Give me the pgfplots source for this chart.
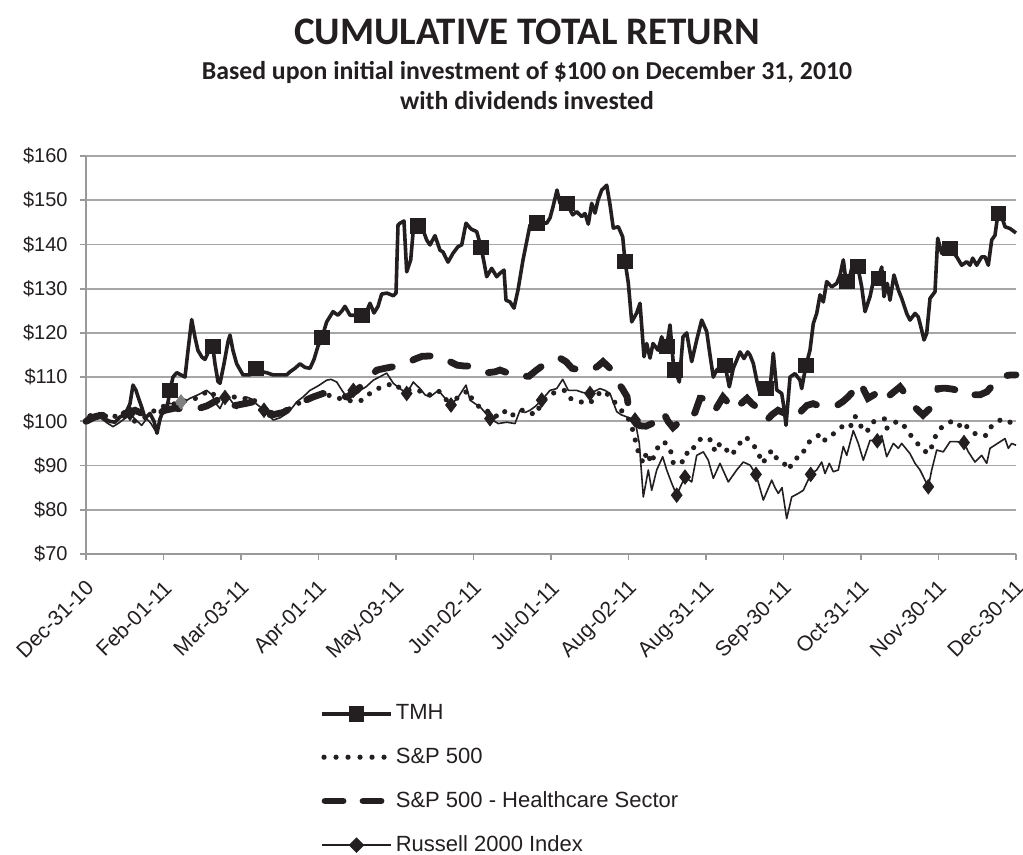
\documentclass[border=0pt]{standalone}
\usepackage{fontspec}
\setmainfont{Liberation Sans}
\newfontfamily\calibri{Carlito}
\usepackage{pgfplots}
\pgfplotsset{compat=1.18}
\definecolor{ink}{HTML}{231F20}
\definecolor{gridgray}{HTML}{A6A6A6}
\definecolor{axgray}{HTML}{999999}
\begin{document}
\begin{tikzpicture}
\useasboundingbox (-43pt,-150.5pt) rectangle (468.5pt,277pt);
\node[font=\calibri\bfseries\fontsize{19.5}{22}\selectfont, text=ink] at (220.5pt,261pt) {CUMULATIVE TOTAL RETURN};
\node[font=\calibri\bfseries\fontsize{12.9}{15}\selectfont, text=ink] at (220.5pt,241pt) {Based upon initial investment of \$100 on December 31, 2010};
\node[font=\calibri\bfseries\fontsize{12.9}{15}\selectfont, text=ink] at (220.5pt,226.5pt) {with dividends invested};
\begin{axis}[
  at={(0pt,0pt)}, anchor=south west,
  scale only axis, width=465pt, height=199pt,
  xmin=86, xmax=1016, ymin=70, ymax=160,
  axis x line*=bottom, axis y line*=left,
  axis line style={axgray, line width=0.9pt, -},
  every tick/.style={axgray, line width=0.9pt},
  tick align=outside, major tick length=3pt,
  ytick={70,80,...,160},
  yticklabels={\$70,\$80,\$90,\$100,\$110,\$120,\$130,\$140,\$150,\$160},
  ymajorgrids, grid style={gridgray, line width=0.9pt},
  xtick={86,163.5,241,318.5,396,473.5,551,628.5,706,783.5,861,938.5,1016},
  xticklabels={Dec-31-10,Feb-01-11,Mar-03-11,Apr-01-11,May-03-11,Jun-02-11,Jul-01-11,Aug-02-11,Aug-31-11,Sep-30-11,Oct-31-11,Nov-30-11,Dec-30-11},
  xticklabel style={rotate=45, anchor=north east, font=\fontsize{10.6}{12}\selectfont, text=ink, inner sep=1pt, xshift=-6pt, yshift=-5pt},
  yticklabel style={font=\fontsize{10}{12}\selectfont, text=ink, inner sep=2pt, xshift=-4pt},
  clip=false,
  legend style={at={(0.245,-0.36)}, anchor=north west, draw=none, fill=none,
    font=\fontsize{11}{13}\selectfont, text=ink, row sep=9.6pt,
    nodes={inner sep=1.5pt}},
  legend cell align=left,
]
% TMH
\addplot[ink, line width=1.8pt, line join=round, forget plot] coordinates {
(86,100)(90,101.5)(95,101)(100,101.8)(105,100.5)(110,100)(115,99.8)(120,101)(125,101.5)(130,104)(133,108.2)(136,107)(138,105.6)(142,103)(145,100.7)(150,101.8)(154,100)(157,97.3)(160,100.5)(162,101.8)(167,103)(170,107)(173,110)(176.7,111)(181,110.5)(185,110)(188,116)(191.7,123)(195,119)(198,116)(202,114.5)(205,114)(209,116)(212.7,117)(215,113)(218,109)(220,108.6)(224,113)(228,118)(230,119.5)(233,116)(236.7,113)(243,110.5)(250,110.5)(256,112)(262,111.2)(266.7,111)(273,110.5)(280,110.5)(286.7,110.5)(290,111.2)(295,112)(300,113)(305,112.2)(310,112)(314,114)(318,117)(322,119)(326.7,122.5)(333,124.8)(338,124)(342,125)(345,126)(350,124)(355,124)(361.7,124)(366,124.5)(370,126.7)(374,124.5)(378,126)(381.7,128.8)(387,129)(393.3,128.4)(396,129)(398,144.4)(400,144.8)(404,145.3)(406.7,133.8)(410.7,136.5)(413,142.5)(417.7,144.2)(423,143.3)(426.7,141)(430,139.9)(435,142)(440,138.7)(443,138.3)(448,136)(453,138)(458,139.5)(461.7,139.9)(466,144.8)(471,143.5)(476.7,142.9)(481,139.4)(484,136)(486.7,132.7)(491.7,134.6)(496.7,132.7)(500,133.5)(504,134.2)(506,127.4)(510,127)(514,125.6)(518,129.7)(523,136.5)(527,141)(530,144.4)(536.7,144.9)(542,145)(546.7,144.8)(550,146)(553,148.5)(557,152.3)(560,149.3)(566.7,149.3)(572.7,146.7)(576.7,147.4)(581.7,146.3)(585,147)(588.3,144.6)(591.7,149.3)(595,147.1)(598,150)(601.7,152.3)(606.7,153.4)(610,149)(613.3,143.7)(618.3,144)(622.7,141.7)(625,136.2)(628.3,131.3)(631.7,122.5)(636.7,124.5)(640,126.7)(644,114.6)(646.7,117.6)(650,114.3)(653,117.6)(658,116.1)(661.7,119.1)(664,117.6)(666.7,116.9)(670,121.8)(673.3,113.1)(675,111.6)(679.3,108.9)(683,119.1)(686.7,120)(691.7,113.5)(696.7,118.4)(701.7,122.9)(706.7,120.3)(710,115)(713.3,110)(716.7,111.6)(721,112.5)(725,112.7)(729.3,107.8)(733.3,112)(737,114)(740,115.7)(744,114.2)(747.7,115.7)(750,115)(753.3,113.1)(757,109)(760,106.3)(763.3,108.6)(766,107.4)(770,107.3)(773.3,115.4)(776.7,107.1)(781.7,106.3)(784,103)(786,99.1)(790,110)(795,110.8)(800,109.3)(801.7,107.4)(806,112.7)(810,116.1)(813.3,122.1)(816.7,124.4)(820,128.6)(823.3,127)(826.7,131.6)(831.7,130.4)(836.7,131.2)(840,133)(843.3,136.5)(845,133.5)(846.7,131.7)(850,133)(853.3,136.1)(857.7,135.1)(861.7,130.4)(865,124.8)(870,128.2)(874.3,132.7)(878.3,132.3)(881.7,134.9)(884,128.2)(887.3,131.2)(890,127.4)(894,133.1)(898.3,129.7)(901.7,127.8)(906.7,124.4)(910,122.9)(915,124.4)(918.3,123.6)(921.7,120.6)(924,118.4)(926.7,119.9)(930,127.8)(935,129.3)(937.7,141.4)(941.7,138)(946,139)(950,139.1)(956.7,137.2)(961.7,135.3)(966.7,136.1)(970,135.3)(972.7,136.9)(976.7,135.3)(981.7,137.2)(985,137.2)(988.3,135.3)(991.7,141)(995,142.1)(997.3,145.9)(998.3,147)(1001.7,146.3)(1005,144)(1010,143.6)(1016,142.6)
};
\addplot[only marks, mark=square*, mark size=3.6pt, ink, forget plot] coordinates {
(170,107)(212.7,117)(256,112)(322,119)(361.7,124)(417.7,144.2)(481,139.4)(536.7,144.9)(566.7,149.3)(625,136.2)(666.7,116.9)(675,111.6)(725,112.7)(766,107.4)(806,112.7)(846.7,131.7)(857.7,135.1)(878.3,132.3)(950,139.1)(998.3,147)
};
% S&P 500
\addplot[ink, line width=2.6pt, line cap=round, dash pattern=on 0pt off 5.5pt, forget plot] coordinates {
(86,100)(92,101)(98,101.5)(104,101)(110,101.8)(116,101)(122,101.5)(128,100.5)(134,100)(140,100.5)(146,101)(153,102.2)(160,103.3)(168,103.5)(175,104)(182,104.5)(190,104.8)(200,105.5)(208,107)(214,106)(220,105.2)(230,105.5)(240,105.5)(247,105)(253,105.2)(258,103.5)(263,101.8)(268,101.5)(273,101)(280,101.8)(287,102.5)(293,103.3)(301,104.4)(307,105)(313,105.2)(318,106)(323,106.3)(330,105.8)(335,105.7)(341,105)(346.7,104.8)(355,104.5)(363,104.8)(371.7,106.7)(381.7,107.8)(388,108.2)(393.3,108.6)(400,107.5)(406.7,107)(412,107.2)(418.3,107)(423,106.5)(428.3,105.9)(433,106.3)(438.3,107)(443,105.5)(446.7,104.8)(451,105)(456.7,105.2)(462,106)(468.3,107)(471.7,105.2)(476.7,104.1)(480,102.9)(486.7,102.5)(491,101.5)(495,101)(500,101.8)(503.3,102.5)(510,101)(515,101.8)(518.3,102.5)(526.7,102.5)(535,101.4)(541.7,104.1)(548.3,105.9)(556.7,106.7)(565,107)(570,105.2)(575,104.8)(580,104.4)(585,104.3)(590,104.1)(596.7,105.9)(603.3,107)(608,106)(611.7,105.2)(618.3,103.3)(622,102.3)(626.7,101.4)(631.7,98.9)(635,96)(638.3,93.1)(643.3,90.5)(646.7,93.1)(651.7,90.5)(655,93.1)(661.7,95.4)(666.7,95)(671.7,92.7)(673.3,90.5)(681.7,90.5)(685,92.8)(691.7,92.7)(695,95)(703,96.4)(711.7,95.7)(715,93.1)(720,95)(725,93.9)(731.7,92.3)(738.3,94.6)(745,96.5)(750,95.7)(758.3,93.1)(761.7,90.5)(766.7,91.6)(771.7,93.5)(776.7,91.6)(783.3,90.8)(788.3,89)(795,91.6)(801.7,92)(806,94.6)(812.7,96.1)(821.7,97.2)(825,95.7)(831.7,96.8)(836.7,97.9)(843.3,99)(850,98.6)(855,101.2)(861.7,98.6)(866.7,97.5)(871.7,99.8)(878.3,100.2)(885,100.6)(886.7,98.4)(893.3,99.8)(901.7,99.8)(908.3,97.5)(915,95.7)(921.7,93.8)(928.3,92.7)(933.3,95)(936.7,97.5)(943.3,99)(953.3,100.2)(960,99)(963.3,99.8)(970,97.9)(978.3,96.8)(986.7,96.8)(991.7,99)(1001.7,100.5)(1010,99.8)(1016,100)
};
% S&P 500 Healthcare
\addplot[ink, line width=3.4pt, line cap=round, dash pattern=on 9pt off 11pt, forget plot] coordinates {
(86,100)(95,101)(105,101.5)(115,101)(125,101.8)(135,102.5)(145,101.5)(155,101.5)(165,102.5)(175,103)(190,102.5)(200,103)(207,103.5)(215,104.5)(223,105.5)(233,103.5)(245,104)(255,104.5)(263,103)(273,101.5)(283,102)(293,103.2)(303,104.5)(313,105.5)(323,106.3)(335,106)(347,105.5)(357,107)(367,109.5)(377,111.6)(385,112)(392,112.3)(400,112.7)(407,113)(414,114)(422,114.7)(432,114.8)(442,114.6)(450,113.5)(457,112.7)(465,112.5)(472,112.5)(480,111.5)(488,111)(495,111.2)(500,111.6)(507,111)(513,110.1)(521,110.2)(529,110.2)(536,111.5)(542,112.5)(550,113.5)(560,114.3)(566,113.5)(572,112)(582,111.5)(592,111.6)(598,112.5)(603,113.5)(610,112)(617,109)(622,107.5)(627,105.6)(630,101)(635,100)(640,99)(646,98.9)(652,99.5)(657,101)(663,102.2)(668,100)(673,98.6)(680,100)(687,101)(692,101.2)(695,102)(700,105.2)(705,105.2)(710,103)(715,102.5)(719,104)(723,105.5)(729,104)(735,102.5)(741,104)(747,105.2)(752,104)(758,103)(763,101)(767,100.3)(772,101.5)(778,102.5)(783,102)(787,101.8)(792,101)(797,101)(802,102.5)(807,103.6)(813,104)(822,103.3)(829,103.4)(837,103.6)(843,104.5)(848,105.5)(854,107)(860,108.9)(864,107)(868,105.2)(874,106)(880,107)(886,105.2)(893,106.5)(900,107.8)(906,106)(913,103.6)(918,102.5)(923,101.4)(928,102.5)(933,103.6)(938,107.4)(945,107.5)(952,107.3)(958,107)(962,106)(965,105.9)(972,106)(980,106)(987,106.7)(992,108)(997,109.7)(1005,110.3)(1011,110.5)(1016,110.5)
};
% Russell 2000
\addplot[ink, line width=0.8pt, line join=round, forget plot] coordinates {
(86,100)(91,101)(96.7,101.8)(102,100.5)(108,99.5)(113,98.8)(118,99.5)(124,100.5)(130,101.8)(135,100.5)(141.7,99.1)(146.7,100.6)(151,99.5)(155,98)(157,97.5)(160,100)(163,102)(166.7,104.1)(172,104)(180,104.1)(185,104.5)(190,105.2)(198,106)(206.7,107)(212,106)(216,104)(220,102.9)(225,105.4)(230,105)(236.7,102.9)(241,104)(246.7,105.5)(252,105)(256,104)(260,103.3)(266.7,101.8)(273.3,100.3)(280,100.8)(286.7,101.8)(292,103)(296.7,104.4)(303,105.5)(310,107)(318,108)(326.7,109.3)(331,109.5)(336.7,108.9)(342,107)(346.7,105.5)(353.3,107)(360,107)(366,107.8)(373.3,109.3)(380,110.1)(386.7,110.9)(393.3,108.6)(400,107.4)(406.7,106.3)(413.3,108.9)(420,107.4)(425,106)(430,105.5)(438.3,107)(446.7,104.8)(451,103.7)(458.3,105.5)(466,108.2)(470,104.8)(475,104)(480,103.3)(485,102)(490,100.6)(498.3,99.5)(506.7,99.8)(515,99.5)(520,102.5)(525,102)(530,102.5)(536,103.5)(541.7,104.8)(550,107)(556.7,107.4)(562.7,109.5)(568.3,107)(576.7,107)(583,106.5)(590,106.3)(600,107.4)(605,107)(610,106.3)(616.7,102.2)(621,101.5)(626.7,101)(635,100.3)(639.3,95)(643.3,82.9)(648.3,89)(651.7,84.4)(656.7,89)(662.7,92)(666.7,89)(671.7,86)(676.7,83.3)(681,85.5)(685,87.4)(691.7,86.3)(696.7,92.3)(703.3,93.1)(708.3,91.2)(713.3,87.1)(720,90.5)(728.3,86.3)(736.7,89)(743.3,90.8)(750,90.1)(756,88)(763.3,82.2)(771.7,86.7)(775,85)(778.3,83.7)(782,85)(786.7,78)(791.7,82.9)(798.3,83.7)(803.3,84.4)(810.7,88)(816.7,89)(821.7,90.8)(825,88.2)(829.3,90.5)(833.3,88.6)(838.3,89)(843.3,94.3)(846.7,92.3)(853.3,97.9)(858.3,95)(863.3,91.2)(870,95.7)(877.3,95.6)(881.7,96.8)(886.7,92)(893.3,95)(898.3,93.9)(901.7,95)(910,92.7)(915,90.5)(920,89)(928.3,85.2)(931.7,89)(936.7,93.5)(943.3,93.1)(950,95.4)(956.7,95.4)(964,95.2)(968.3,93.1)(975,90.8)(981.7,92.3)(986.7,90.5)(990,93.9)(1005,96.1)(1008.3,93.9)(1011.7,95)(1016,94.6)
};
\addplot[only marks, mark=diamond*, mark size=3.6pt, ink, forget plot] coordinates {
(130,101.8)(225,105.4)(264,102.5)(353.3,107)(406.7,106.3)(451,103.7)(490,100.6)(541.7,104.8)(590,106.3)(635,100.3)(676.7,83.3)(685,87.4)(756,88)(810.7,88)(877.3,95.6)(928.3,85.2)(964,95.2)
};
\addplot[only marks, mark=diamond*, mark size=3.6pt, gray, forget plot] coordinates {(181,104.4)};
% legend
\addlegendimage{legend image code/.code={\draw[ink,line width=1.8pt] (0pt,0pt) -- (34.5pt,0pt); \fill[ink] (13.8pt,-3.6pt) rectangle (20.8pt,3.6pt);}}
\addlegendentry{TMH}
\addlegendimage{legend image code/.code={\draw[ink,line width=2.6pt,line cap=round,dash pattern=on 0pt off 6pt] (1pt,0pt) -- (32pt,0pt);}}
\addlegendentry{S\&P 500}
\addlegendimage{legend image code/.code={\draw[ink,line width=3.4pt,line cap=round,dash pattern=on 9pt off 10pt] (1.5pt,0pt) -- (33pt,0pt);}}
\addlegendentry{S\&P 500 - Healthcare Sector}
\addlegendimage{legend image code/.code={\draw[ink,line width=0.8pt] (0pt,0pt) -- (34.5pt,0pt); \fill[ink] (17.25pt,-3.6pt) -- (20.85pt,0pt) -- (17.25pt,3.6pt) -- (13.65pt,0pt) -- cycle;}}
\addlegendentry{Russell 2000 Index}
\end{axis}
\end{tikzpicture}
\end{document}
